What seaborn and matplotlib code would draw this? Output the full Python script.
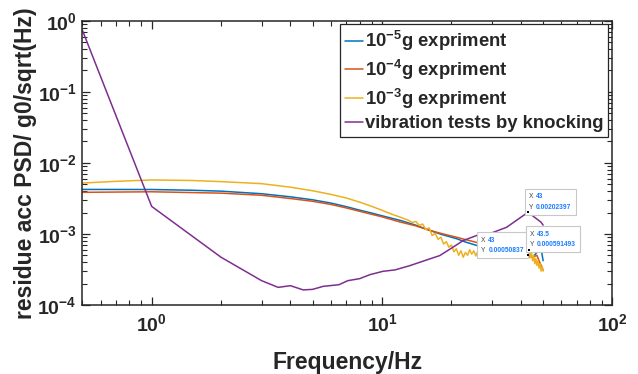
import matplotlib
matplotlib.use("Agg")
import numpy as np
import pandas as pd
import matplotlib.pyplot as plt
import seaborn as sns
from matplotlib.offsetbox import TextArea, HPacker, VPacker, AnnotationBbox

# --- data ---
freq_1e5 = [0.5, 1.0, 1.5, 2.0, 3.0, 4.0, 5.0, 6.0, 7.0, 8.0, 9.0, 10.0, 12.0, 14.0,
            16.0, 18.0, 21.0, 23.0, 25.7, 28.0, 30.3, 33.0, 35.8, 38.0, 40.9, 43.5,
            45.0, 47.0, 49.0, 50.0]
psd_1e5 = [4.23e-3, 4.22e-3, 4.12e-3, 4.0e-3, 3.68e-3, 3.33e-3, 3.02e-3, 2.72e-3,
           2.42e-3, 2.16e-3, 1.97e-3, 1.8e-3, 1.55e-3, 1.33e-3, 1.13e-3, 0.99e-3,
           0.86e-3, 0.77e-3, 0.69e-3, 0.61e-3, 0.55e-3, 0.50e-3, 0.475e-3, 0.485e-3,
           0.525e-3, 0.50e-3, 0.47e-3, 0.55e-3, 0.62e-3, 0.42e-3]

freq_1e4 = [0.5, 1.0, 2.0, 3.0, 4.0, 5.0, 6.0, 7.0, 8.0, 10.0, 11.9, 14.0, 16.0, 18.4,
            21.0, 25.7, 29.0, 32.4, 35.0, 38.3, 41.0, 45.2, 47.0, 48.0, 49.0, 50.0]
psd_1e4 = [3.85e-3, 3.92e-3, 3.75e-3, 3.5e-3, 3.15e-3, 2.88e-3, 2.6e-3, 2.32e-3,
           2.08e-3, 1.74e-3, 1.48e-3, 1.3e-3, 1.13e-3, 1.0e-3, 0.9e-3, 0.76e-3,
           0.66e-3, 0.58e-3, 0.53e-3, 0.50e-3, 0.48e-3, 0.47e-3, 0.50e-3, 0.42e-3,
           0.36e-3, 0.31e-3]

freq_1e3 = [0.5, 0.7, 1.0, 1.5, 2.0, 3.0, 4.0, 5.0, 6.0, 7.0, 8.0, 9.0, 10.0, 11.0,
            12.0, 13.0, 13.5, 14.0, 14.5, 15.0, 15.5, 16.0, 16.5, 17.0, 17.5, 18.0,
            18.5, 19.0, 19.5, 20.0, 20.5, 21.0, 21.5, 22.0, 22.5, 23.0, 23.5, 24.0,
            24.5, 25.0, 25.5, 26.0, 27.0, 28.0, 29.0, 30.0, 31.0, 32.0, 33.0, 34.0,
            35.0, 36.0, 37.0, 38.0, 39.0, 40.0, 41.0, 42.0, 43.0, 43.5, 44.0, 44.5,
            45.0, 45.5, 46.0, 46.5, 47.0, 47.5, 48.0, 48.5, 49.0, 49.5, 50.0]
psd_1e3 = [5.2e-3, 5.5e-3, 5.75e-3, 5.65e-3, 5.45e-3, 5.1e-3, 4.55e-3, 4.05e-3, 3.6e-3,
           3.2e-3, 2.8e-3, 2.45e-3, 2.15e-3, 1.9e-3, 1.72e-3, 1.56e-3, 1.45e-3, 1.5e-3,
           1.32e-3, 1.38e-3, 1.15e-3, 1.22e-3, 0.95e-3, 1.02e-3, 0.84e-3, 0.9e-3,
           0.72e-3, 0.78e-3, 0.65e-3, 0.70e-3, 0.56e-3, 0.62e-3, 0.50e-3, 0.58e-3,
           0.47e-3, 0.55e-3, 0.50e-3, 0.60e-3, 0.52e-3, 0.58e-3, 0.49e-3, 0.57e-3,
           0.52e-3, 0.59e-3, 0.50e-3, 0.55e-3, 0.47e-3, 0.52e-3, 0.45e-3, 0.53e-3,
           0.47e-3, 0.51e-3, 0.46e-3, 0.53e-3, 0.48e-3, 0.55e-3, 0.47e-3, 0.53e-3,
           0.508e-3, 0.591e-3, 0.46e-3, 0.55e-3, 0.42e-3, 0.50e-3, 0.38e-3, 0.45e-3,
           0.36e-3, 0.42e-3, 0.33e-3, 0.38e-3, 0.30e-3, 0.35e-3, 0.30e-3]

freq_knock = [0.5, 1.0, 2.0, 3.0, 3.54, 4.0, 4.55, 5.0, 5.55, 6.5, 7.1, 8.0, 8.85,
              10.1, 11.4, 13.2, 15.6, 17.8, 20.3, 22.5, 25.7, 28.4, 34.7, 43.0, 49.0,
              50.0]
psd_knock = [0.74, 2.44e-3, 4.7e-4, 2.2e-4, 1.77e-4, 1.87e-4, 1.63e-4, 1.66e-4,
             1.83e-4, 1.93e-4, 2.2e-4, 2.35e-4, 2.67e-4, 2.98e-4, 3.12e-4, 3.58e-4,
             4.3e-4, 4.96e-4, 6.5e-4, 8.07e-4, 9.5e-4, 9.7e-4, 1.24e-3, 2.02e-3,
             1.46e-3, 1.33e-3]

labels = ["10$^{-5}$g expriment", "10$^{-4}$g expriment",
          "10$^{-3}$g expriment", "vibration tests by knocking"]
colors = ["#0072BD", "#D95319", "#EDB120", "#7E2F8E"]

# data tips
tip_x = [43, 43, 43.5]
tip_y = [0.00202397, 0.00050837, 0.000591493]
tip_xtxt = ["43", "43", "43.5"]
tip_ytxt = ["0.00202397", "0.00050837", "0.000591493"]

sns.set_style("ticks")
plt.rcParams["font.family"] = ["Liberation Sans", "DejaVu Sans"]
plt.rcParams["font.weight"] = "bold"
plt.rcParams["mathtext.default"] = "regular"

fig = plt.figure(figsize=(6.38, 3.74), dpi=100)
ax = fig.add_axes([0.129, 0.1845, 0.831, 0.760])

series = [(freq_1e5, psd_1e5), (freq_1e4, psd_1e4), (freq_1e3, psd_1e3),
          (freq_knock, psd_knock)]
for (fx, fy), lab, col in zip(series, labels, colors):
    sns.lineplot(x=fx, y=fy, ax=ax, color=col, label=lab, lw=1.1,
                 estimator=None, sort=False)

sns.scatterplot(x=tip_x, y=tip_y, ax=ax, marker="s", color="black", s=4,
                linewidth=0, zorder=6, legend=False)

ax.set_xscale("log")
ax.set_yscale("log")
ax.set_xlim(0.5, 100)
ax.set_ylim(1e-4, 1)

for sp in ax.spines.values():
    sp.set_color("#262626")
    sp.set_linewidth(1.1)
ax.tick_params(which="both", direction="in", top=True, right=True,
               colors="#262626", labelsize=14)
ax.tick_params(which="major", length=5.5, width=0.9)
ax.tick_params(which="minor", length=3.5, width=0.8)
ax.tick_params(axis="x", pad=6)
ax.tick_params(axis="y", pad=4)

ax.set_xlabel("Frequency/Hz", fontsize=16.5, fontweight="bold", labelpad=11)
ax.set_ylabel("residue acc PSD/ g0/sqrt(Hz)", fontsize=16.5, fontweight="bold",
              labelpad=0)

leg = ax.legend(loc="upper right", bbox_to_anchor=(0.992, 0.987),
                borderaxespad=0, fancybox=False, framealpha=1,
                edgecolor="#262626", prop={"size": 13.3, "weight": "bold"},
                handlelength=1.0, handletextpad=0.1, labelspacing=0.25,
                borderpad=0.25)
leg.get_frame().set_linewidth(0.9)


def datatip(x, y, xs, ys, align, offset):
    small = dict(color="#404040", size=4.8, weight="normal")
    val = dict(color="#1a7cff", size=4.8, weight="bold")
    r1 = HPacker(children=[TextArea("X", textprops=small),
                           TextArea(xs, textprops=val)], sep=2, pad=0)
    r2 = HPacker(children=[TextArea("Y", textprops=small),
                           TextArea(ys, textprops=val)], sep=2, pad=0)
    box = VPacker(children=[r1, r2], sep=2.5, pad=0, align="left")
    ab = AnnotationBbox(box, (x, y), xybox=offset, xycoords="data",
                        boxcoords="offset points", box_alignment=align,
                        frameon=True, pad=0.25,
                        bboxprops=dict(boxstyle="square", edgecolor="#c8c8c8",
                                       facecolor="white", lw=0.8))
    ab.set_zorder(5)
    ax.add_artist(ab)


datatip(tip_x[0], tip_y[0], tip_xtxt[0], tip_ytxt[0], (0, 0), (0.7, 1.0))
datatip(tip_x[1], tip_y[1], tip_xtxt[1], tip_ytxt[1], (1, 0), (-3.0, 0.5))
datatip(tip_x[2], tip_y[2], tip_xtxt[2], tip_ytxt[2], (0, 0), (0.5, 1.5))

fig.savefig("out.png", dpi=100)
